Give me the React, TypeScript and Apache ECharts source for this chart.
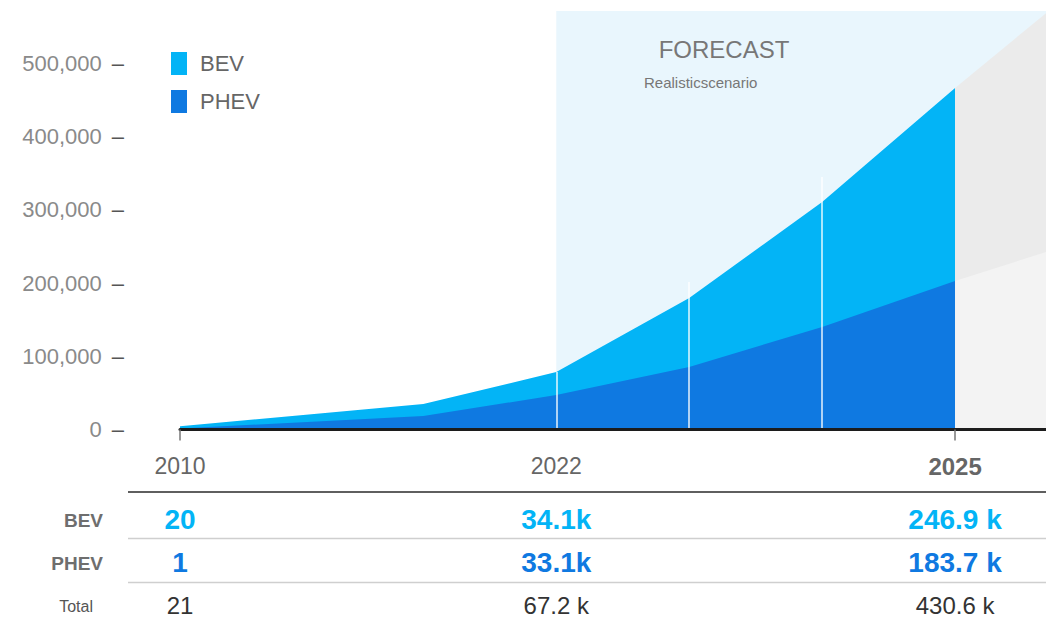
import React, { useEffect, useRef } from 'react';
import * as echarts from 'echarts';

// Cumulative fleet: PHEV at the bottom, BEV layered on top of it
const years = [2010, 2021, 2022, 2023, 2024, 2025];
const phevStock = [1500, 18400, 47100, 85400, 140000, 203000];
const bevStock = [3000, 16400, 31400, 94200, 170800, 263600];

// Grey outlook beyond 2025
const outlookYears = [2025, 2026];
const phevOutlook = [203000, 260700];
const bevOutlook = [263600, 355300];

// White guide lines inside the forecast band
const guideYears = [2022, 2023, 2024];
const guideTops = [78500, 201500, 345000];

const forecastStart = 2022;
const axisEndYear = 2025.684;
const yStep = 100000;
const yTop = 571700;

// Sales table
const tableYears = [2010, 2022, 2025];
const bevSales = [20, 34100, 246900];
const phevSales = [1, 33100, 183700];
const spacedK = [false, false, true];

const FONT = '"Liberation Sans", Arial, sans-serif';
const BEV_COLOR = '#03b4f6';
const PHEV_COLOR = '#0f79e1';

// Broken time axis: years before 2021 are compressed
const BREAK_YEAR = 2021;
const EARLY_SCALE = 0.1664;
const pos = (y: number) =>
  y >= BREAK_YEAR ? y - 2022 : BREAK_YEAR - 2022 - (BREAK_YEAR - y) * EARLY_SCALE;

const fmtSales = (v: number, spaced: boolean) =>
  v < 1000 ? String(v) : (v / 1000).toFixed(1) + (spaced ? ' k' : 'k');

const sum = (a: number[], b: number[]) => a.map((v, i) => v + b[i]);

export default function App() {
  const ref = useRef<HTMLDivElement>(null);

  useEffect(() => {
    if (!ref.current) return;
    const chart = echarts.init(ref.current, null, { renderer: 'svg' });

    const pts = (ys: number[], vs: number[]) => ys.map((y, i) => [pos(y), vs[i]]);
    const area = (name: string, data: number[][], color: string) => ({
      name,
      type: 'line',
      z: 2,
      data,
      showSymbol: false,
      symbol: 'none',
      silent: true,
      lineStyle: { width: 0 },
      itemStyle: { color },
      areaStyle: { color, opacity: 1 },
    });

    chart.setOption({
      animation: false,
      textStyle: { fontFamily: FONT },
      grid: { left: 180, right: 0, top: 11, bottom: 191.5 },
      legend: {
        data: ['BEV', 'PHEV'],
        orient: 'vertical',
        left: 166,
        top: 47,
        icon: 'rect',
        itemWidth: 16,
        itemHeight: 23,
        itemGap: 15,
        selectedMode: false,
        textStyle: { fontSize: 22, color: '#666', fontFamily: FONT, padding: [0, 0, 0, 8] },
      },
      xAxis: {
        type: 'value',
        min: pos(2010),
        max: pos(axisEndYear),
        z: 10,
        splitLine: { show: false },
        axisLine: { show: true, lineStyle: { color: '#1c1c1c', width: 3 } },
        axisTick: {
          show: true,
          customValues: [pos(2010), pos(2025)],
          length: 11,
          lineStyle: { color: '#777', width: 1.5 },
        },
        axisLabel: {
          customValues: tableYears.map(pos),
          margin: 25,
          fontSize: 23,
          color: '#666',
          fontFamily: FONT,
          formatter: (v: number) => {
            const yr = tableYears.find((y) => Math.abs(pos(y) - v) < 1e-6);
            if (yr === undefined) return '';
            return yr === 2025 ? `{b|${yr}}` : String(yr);
          },
          rich: {
            b: { fontSize: 24, fontWeight: 'bold', color: '#666', fontFamily: FONT },
          },
        },
      },
      yAxis: {
        type: 'value',
        min: 0,
        max: yTop,
        interval: yStep,
        splitLine: { show: false },
        axisLine: { show: false },
        axisTick: { show: false },
        axisLabel: {
          showMaxLabel: false,
          margin: 56,
          formatter: (v: number) =>
            v > 500000 ? '' : `{v|${v.toLocaleString('en-US')}}{d|–}`,
          rich: {
            v: { color: '#8a8a8a', fontSize: 22, fontFamily: FONT },
            d: { color: '#555', fontSize: 22, fontFamily: FONT, padding: [0, 0, 0, 10] },
          },
        },
      },
      series: [
        {
          name: 'forecast-band',
          type: 'line',
          data: [],
          z: 1,
          silent: true,
          markArea: {
            silent: true,
            itemStyle: { color: '#e9f6fd' },
            label: { show: false },
            data: [[{ xAxis: pos(forecastStart) }, { xAxis: pos(axisEndYear) }]],
          },
        },
        // BEV band spans from the PHEV top up to the combined total
        area('BEV', pts(years, sum(phevStock, bevStock)), BEV_COLOR),
        area('PHEV', pts(years, phevStock), PHEV_COLOR),
        area('BEV outlook', pts(outlookYears, sum(phevOutlook, bevOutlook)), '#ebebeb'),
        area('PHEV outlook', pts(outlookYears, phevOutlook), '#f3f3f3'),
        {
          name: 'guides',
          type: 'line',
          data: [],
          z: 3,
          silent: true,
          markLine: {
            silent: true,
            symbol: 'none',
            label: { show: false },
            lineStyle: { color: '#ffffff', width: 1.5, type: 'solid', opacity: 0.9 },
            data: guideYears.map((y, i) => [
              { coord: [pos(y), 0] },
              { coord: [pos(y), guideTops[i]] },
            ]),
          },
        },
      ],
    });

    // Table under the chart, columns aligned to the time axis
    const colX = tableYears.map((y) => chart.convertToPixel({ xAxisIndex: 0 }, pos(y)) as number);
    const txt = (text: string, x: number, y: number, font: string, fill: string, align = 'center') => ({
      type: 'text',
      x,
      y,
      z: 20,
      silent: true,
      style: {
        text,
        font,
        fill,
        align,
        textAlign: align,
        verticalAlign: 'middle',
        textVerticalAlign: 'middle',
      },
    });
    const hline = (y: number, stroke: string, w: number) => ({
      type: 'line',
      z: 20,
      silent: true,
      shape: { x1: 128, y1: y, x2: 1046, y2: y },
      style: { stroke, lineWidth: w },
    });

    const graphics: any[] = [
      txt('FORECAST', 724, 49, `24px ${FONT}`, '#777'),
      txt('Realisticscenario', 644, 82, `15px ${FONT}`, '#777', 'left'),
      hline(492, '#2a2a2a', 1.5),
      hline(538.5, '#cfcfcf', 1.5),
      hline(582.5, '#cfcfcf', 1.5),
      txt('BEV', 103, 520, `bold 19px ${FONT}`, '#6e6e6e', 'right'),
      txt('PHEV', 103, 563, `bold 19px ${FONT}`, '#6e6e6e', 'right'),
      txt('Total', 93, 606, `16px ${FONT}`, '#555', 'right'),
    ];
    tableYears.forEach((_, i) => {
      const total = bevSales[i] + phevSales[i];
      graphics.push(txt(fmtSales(bevSales[i], spacedK[i]), colX[i], 519, `bold 28px ${FONT}`, BEV_COLOR));
      graphics.push(txt(fmtSales(phevSales[i], spacedK[i]), colX[i], 562, `bold 28px ${FONT}`, PHEV_COLOR));
      graphics.push(txt(fmtSales(total, true), colX[i], 605, `24px ${FONT}`, '#333'));
    });
    chart.setOption({ graphic: graphics });

    return () => chart.dispose();
  }, []);

  return (
    <div
      ref={ref}
      style={{ position: 'absolute', left: 0, top: 0, width: 1046, height: 621, background: '#fff' }}
    />
  );
}
